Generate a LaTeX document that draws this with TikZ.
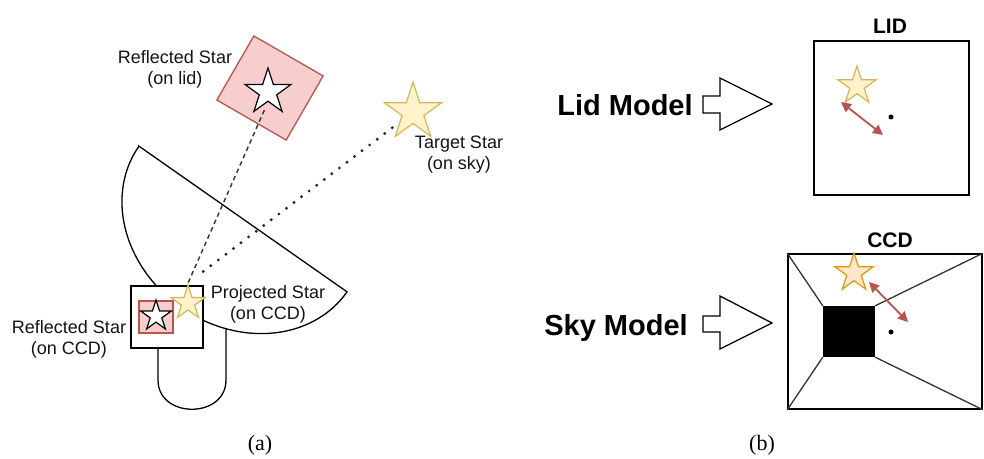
\documentclass[tikz,border=0pt]{standalone}
\usepackage{fontspec}
\setmainfont{Liberation Sans}
\newfontfamily\capfont{Liberation Serif}
\usetikzlibrary{shapes.geometric,arrows.meta}

\definecolor{pinkfill}{HTML}{F8CECC}
\definecolor{pinkline}{HTML}{B85450}
\definecolor{yelfill}{HTML}{FFF2CC}
\definecolor{yelline}{HTML}{D6B656}
\definecolor{orgfill}{HTML}{FFE6CC}
\definecolor{orgline}{HTML}{D79B00}

\tikzset{
  outline/.style={draw=black, line width=1.3pt, line join=miter},
  lbl/.style={font=\fontsize{18}{21}\selectfont, align=center, inner sep=0pt, text=black!92},
  model/.style={font=\bfseries\fontsize{29}{33}\selectfont, inner sep=0pt, anchor=base},
  boxtitle/.style={font=\bfseries\fontsize{21}{24}\selectfont, inner sep=0pt, anchor=base},
  sublabel/.style={font=\capfont\fontsize{22}{26}\selectfont, inner sep=0pt},
  starshape/.style={star, star points=5, star point ratio=2.618, inner sep=0pt, line width=1.2pt, line join=miter},
  whitestar/.style={starshape, fill=white, draw=black},
  yelstar/.style={starshape, fill=yelfill, draw=yelline},
  orgstar/.style={starshape, fill=orgfill, draw=orgline},
  patch/.style={rectangle, fill=pinkfill, draw=pinkline, line width=1.3pt, inner sep=0pt},
  offset/.style={draw=pinkline, line width=1.8pt, {Triangle[length=10pt,width=10pt]}-{Triangle[length=10pt,width=10pt]}},
  centerdot/.style={circle, fill=black, inner sep=0pt, minimum size=5pt},
  blockarrow/.style={draw=black, line width=1.3pt, fill=white, line join=miter},
  raydash/.style={draw=black!80, line width=1.4pt, dash pattern=on 4.5pt off 3.5pt},
  raydot/.style={draw=black!85, line width=3.2pt, line cap=round, dash pattern=on 0pt off 9.5pt},
  perspective/.style={draw=black!80, line width=1.3pt},
}

\begin{document}
\begin{tikzpicture}[x=1pt,y=-1pt]
\useasboundingbox (0,0) rectangle (984,458);

% ---------------- (a) telescope ----------------
% stand
\draw[outline, fill=white] (158,310) -- (158,380) .. controls (158,419) and (226,419) .. (226,380) -- (226,310);
% dish (half ellipse)
\draw[outline, fill=white, shift={(243,219)}, rotate=-35]
  (-127,0) -- (127,0) -- plot[domain=0:180, samples=90] ({127*cos(\x)},{108*sin(\x)}) -- cycle;
% detector on the telescope
\node[rectangle, outline, fill=white, minimum width=72pt, minimum height=62pt, inner sep=0pt] (ccdsmall) at (167,317) {};
\node[patch, minimum width=34pt, minimum height=32pt] (ccdpatch) at (156,317) {};
\node[whitestar, minimum size=32pt] (ccdrefl) at (156,316) {};

% reflected star on the lid
\node[patch, minimum width=80pt, minimum height=74pt, rotate=-30] (lidpatch) at (270,88) {};
\node[whitestar, minimum size=48pt] (lidstar) at (268,92) {};

% target star on the sky
\node[yelstar, minimum size=60pt] (targetstar) at (413,112) {};

% projected star on the detector
\node[yelstar, minimum size=36pt] (projstar) at (188,303) {};

% rays
\draw[raydash, shorten <=9pt] (lidstar.south) -- (projstar.north);
\draw[raydot, shorten <=26pt, shorten >=10pt] (targetstar.center) -- (projstar.north);

% labels
\node[lbl] (lbllid) at (175,69) {Reflected Star\\(on lid)};
\node[lbl] (lbltarget) at (459,155) {Target Star\\(on sky)};
\node[lbl] (lblproj) at (268,304) {Projected Star\\(on CCD)};
\node[lbl] (lblrefl) at (69,339) {Reflected Star\\(on CCD)};

\node[sublabel] (suba) at (260,445) {(a)};

% ---------------- (b) models ----------------
\node[model] (lidmodel) at (625,115) {Lid Model};
\node[model] (skymodel) at (616,335) {Sky Model};

\draw[blockarrow] (703,96) -- (720,96) -- (720,78) -- (772,104) -- (720,130) -- (720,113) -- (703,113) -- cycle;
\draw[blockarrow] (703,316) -- (720,316) -- (720,296) -- (772,323) -- (720,349) -- (720,332) -- (703,332) -- cycle;

% lid frame
\node[boxtitle] (lidtitle) at (890,33) {LID};
\node[rectangle, outline, minimum width=155pt, minimum height=154pt, inner sep=0pt] (lidbox) at (891.5,118) {};
\node[yelstar, minimum size=40pt] (lidmodelstar) at (857,86) {};
\coordinate (lidoffa) at (841,102);
\coordinate (lidoffb) at (883,135);
\draw[offset] (lidoffa) -- (lidoffb);
\node[centerdot] (lidcenter) at (891,117) {};

% detector frame
\node[boxtitle] (ccdtitle) at (890,247) {CCD};
\node[rectangle, outline, minimum width=194pt, minimum height=155pt, inner sep=0pt] (ccdbox) at (885,331.5) {};
\node[rectangle, fill=black, minimum width=52pt, minimum height=51pt, inner sep=0pt] (hole) at (849,331.5) {};
\draw[perspective] (ccdbox.north west) -- (hole.north west);
\draw[perspective] (ccdbox.south west) -- (hole.south west);
\draw[perspective] (ccdbox.north east) -- (hole.north east);
\draw[perspective] (ccdbox.south east) -- (hole.south east);
\node[orgstar, minimum size=40pt] (ccdmodelstar) at (854,273) {};
\coordinate (ccdoffa) at (869,282);
\coordinate (ccdoffb) at (908,322);
\draw[offset] (ccdoffa) -- (ccdoffb);
\node[centerdot] (ccdcenter) at (891,332) {};

\node[sublabel] (subb) at (762,445) {(b)};
\end{tikzpicture}
\end{document}
